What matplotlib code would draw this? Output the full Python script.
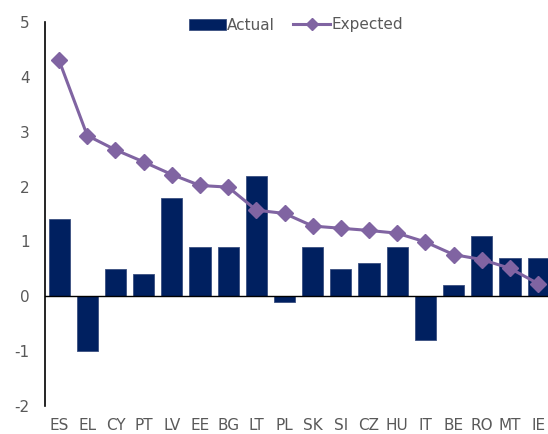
import numpy as np
import matplotlib
matplotlib.use("Agg")
import matplotlib.pyplot as plt

countries = ["ES", "EL", "CY", "PT", "LV", "EE", "BG", "LT", "PL",
             "SK", "SI", "CZ", "HU", "IT", "BE", "RO", "MT", "IE"]
actual = [1.4, -1.0, 0.5, 0.4, 1.8, 0.9, 0.9, 2.2, -0.1,
          0.9, 0.5, 0.6, 0.9, -0.8, 0.2, 1.1, 0.7, 0.7]
expected = [4.30, 2.93, 2.67, 2.45, 2.22, 2.02, 1.99, 1.57, 1.51,
            1.28, 1.24, 1.20, 1.15, 0.99, 0.76, 0.67, 0.51, 0.23]
yticks = [-2, -1, 0, 1, 2, 3, 4, 5]

NAVY = "#002060"
PURPLE = "#8064A2"
GREY = "#595959"

plt.rcParams["font.family"] = "DejaVu Sans"
plt.rcParams["font.size"] = 10

fig = plt.figure(figsize=(5.48, 4.34), dpi=100)
ax = fig.add_axes([45 / 548, 28 / 434, 503 / 548, 384 / 434])

x = np.arange(len(countries))
bars = ax.bar(x, actual, width=0.75, color=NAVY, edgecolor="#3a4f80", linewidth=0.6,
              label="Actual", zorder=2)
line, = ax.plot(x, expected, color=PURPLE, linewidth=2.2, marker="D", markersize=8,
                label="Expected", zorder=3)
ax.axhline(0, color="black", linewidth=1.0, zorder=2.5)

ax.set_xlim(-0.5, 17.35)
ax.set_ylim(-2, 5)
ax.set_yticks(yticks)
ax.set_yticklabels([str(v) for v in yticks])
ax.set_xticks(x)
ax.set_xticklabels(countries)
ax.tick_params(axis="both", length=0, colors=GREY, labelsize=11)
ax.tick_params(axis="y", pad=11)
ax.tick_params(axis="x", pad=9)

for s in ("top", "right", "bottom"):
    ax.spines[s].set_visible(False)
ax.spines["left"].set_color("black")
ax.spines["left"].set_linewidth(1.2)

leg = fig.legend(handles=[bars, line], labels=["Actual", "Expected"],
                 loc="center", bbox_to_anchor=(296 / 548, 1 - 25 / 434), ncol=2,
                 frameon=False, handlelength=2.4, handletextpad=0.1,
                 columnspacing=1.2, fontsize=11, markerscale=0.75)
for t in leg.get_texts():
    t.set_color(GREY)

fig.savefig("out.png", dpi=100)
